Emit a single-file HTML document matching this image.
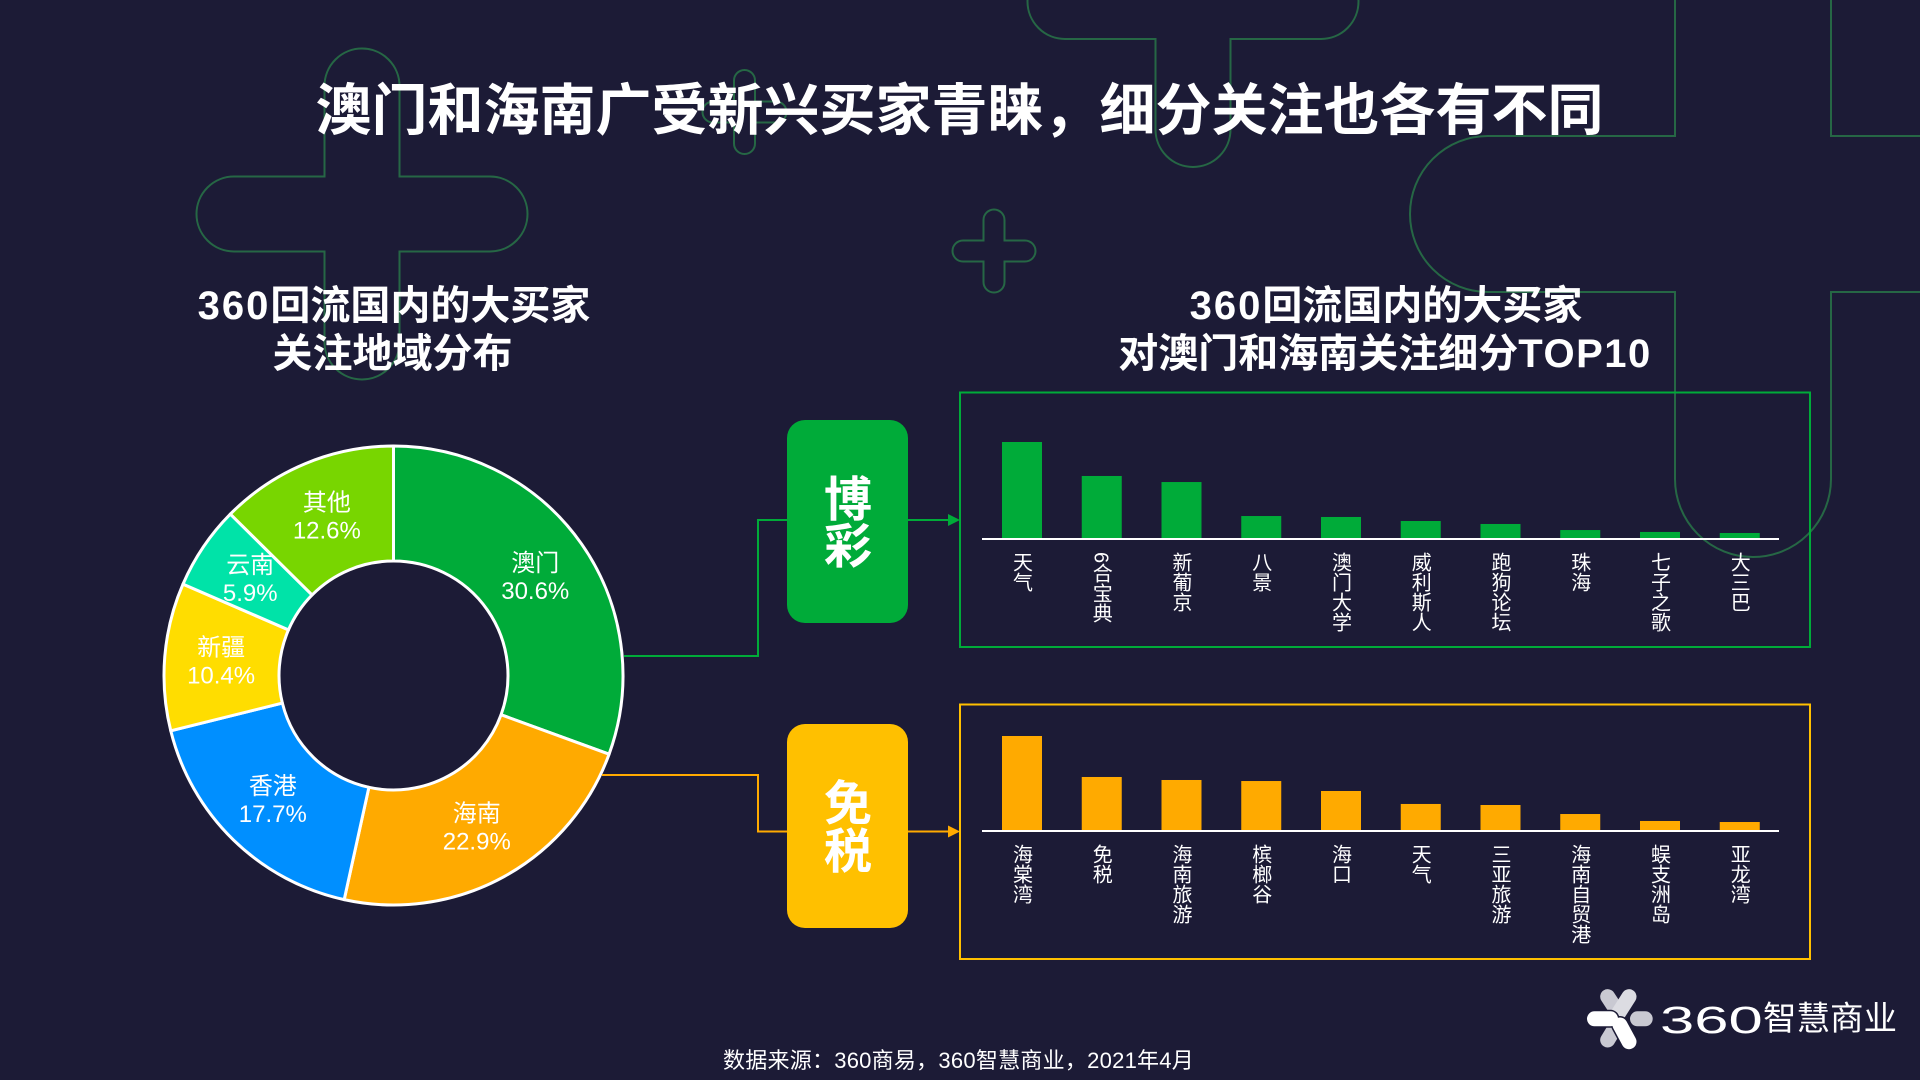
<!DOCTYPE html>
<html lang="zh-CN">
<head>
<meta charset="utf-8">
<title>澳门和海南广受新兴买家青睐</title>
<style>
html,body{margin:0;padding:0;width:1920px;height:1080px;overflow:hidden;background:#1c1b36;}
svg{display:block;position:absolute;left:0;top:0;}
text{font-family:"Liberation Sans","Noto Sans CJK SC",sans-serif;fill:#fff;}
.bold{font-weight:700;}
.vlabel{writing-mode:vertical-rl;font-size:20px;font-family:"Liberation Sans","Noto Sans CJK SC",sans-serif;}
</style>
</head>
<body>
<svg id="stage" width="1920" height="1080" viewBox="0 0 1920 1080">
  <rect width="1920" height="1080" fill="#1c1b36"/>
  <g id="deco" fill="none" stroke="#266745" stroke-width="2"></g>

  <text class="bold" x="959.5" y="130" font-size="56" text-anchor="middle">澳门和海南广受新兴买家青睐，细分关注也各有不同</text>

  <g>
    <text class="bold" x="394" y="319" font-size="40" text-anchor="middle"><tspan letter-spacing="2">360</tspan>回流国内的大买家</text>
    <text class="bold" x="392.5" y="367" font-size="40" text-anchor="middle">关注地域分布</text>
  </g>
  <g>
    <text class="bold" x="1386" y="319" font-size="40" text-anchor="middle"><tspan letter-spacing="2">360</tspan>回流国内的大买家</text>
    <text class="bold" x="1385" y="367" font-size="40" text-anchor="middle">对澳门和海南关注细分<tspan letter-spacing="1.5">TOP10</tspan></text>
  </g>

  <g id="donut"></g>

  <g fill="none" stroke-width="2">
    <path d="M624 656H758V520H787" stroke="#00ab39"/>
    <path d="M908 520H949" stroke="#00ab39"/>
    <path d="M948 514L960 520L948 526Z" fill="#00ab39" stroke="none"/>
    <path d="M602 775H758V831.5H787" stroke="#ffaa00"/>
    <path d="M908 831.5H949" stroke="#ffaa00"/>
    <path d="M948 825.5L960 831.5L948 837.5Z" fill="#ffaa00" stroke="none"/>
  </g>

  <g>
    <rect x="787" y="420" width="121" height="203" rx="18" fill="#00ab39"/>
    <text class="bold" x="848" y="516" font-size="48" text-anchor="middle">博</text>
    <text class="bold" x="848" y="563" font-size="48" text-anchor="middle">彩</text>
  </g>
  <g>
    <rect x="787" y="724" width="121" height="204" rx="18" fill="#ffc000"/>
    <text class="bold" x="848" y="820" font-size="48" text-anchor="middle">免</text>
    <text class="bold" x="848" y="868" font-size="48" text-anchor="middle">税</text>
  </g>

  <rect x="960" y="392.5" width="850" height="254.5" fill="none" stroke="#00ab39" stroke-width="2"/>
  <g id="gamblingChart"></g>
  <rect x="960" y="704.5" width="850" height="254.5" fill="none" stroke="#ffc000" stroke-width="2"/>
  <g id="dutyfreeChart"></g>

  <text x="958.5" y="1068" font-size="22" letter-spacing="0.25" text-anchor="middle">数据来源：360商易，360智慧商业，2021年4月</text>

  <g>
    <g fill="none" stroke-linecap="round" stroke-width="15">
      <path d="M1637.5 1018.8H1645.2" stroke="#c9c9d2"/>
      <path d="M1607.7 996.7L1617.7 1012" stroke="#c9c9d2"/>
      <path d="M1607.7 1040L1615 1028" stroke="#c9c9d2"/>
      <path d="M1629 996.7L1618 1014" stroke="#dcdce2"/>
      <path d="M1594.5 1018.8H1610.5" stroke="#1c1b36" stroke-width="18"/>
      <path d="M1620 1025L1629 1041.7" stroke="#1c1b36" stroke-width="18"/>
      <path d="M1594.5 1018.8H1610.5" stroke="#ffffff"/>
      <path d="M1620 1025L1629 1041.7" stroke="#ffffff"/>
    </g>
    <text transform="translate(1660 1033) scale(1.62 1)" font-size="38">360</text>
    <text x="1763" y="1030" font-size="33.5">智慧商业</text>
  </g>
</svg>
<script>
// Donut data
const regionNames = ['澳门', '海南', '香港', '新疆', '云南', '其他'];
const regionValues = [30.6, 22.9, 17.7, 10.4, 5.9, 12.6];
const regionColors = ['#00ab39', '#ffaa00', '#008fff', '#ffdd00', '#00e3a8', '#78d600'];

// Gambling bar chart data (relative index)
const gamblingCategories = ['天气', '6合宝典', '新葡京', '八景', '澳门大学', '威利斯人', '跑狗论坛', '珠海', '七子之歌', '大三巴'];
const gamblingValues = [100, 64.6, 58.3, 22.9, 21.9, 17.7, 14.6, 8.3, 6.3, 5.2];

// Duty-free bar chart data (relative index)
const dutyfreeCategories = ['海棠湾', '免税', '海南旅游', '槟榔谷', '海口', '天气', '三亚旅游', '海南自贸港', '蜈支洲岛', '亚龙湾'];
const dutyfreeValues = [100, 56.4, 53.2, 52.1, 41.5, 27.7, 26.6, 17, 9.6, 8.5];

const SVG_NS = 'http://www.w3.org/2000/svg';
function mk(tag, attrs, parent) {
  const el = document.createElementNS(SVG_NS, tag);
  for (const k in attrs) el.setAttribute(k, attrs[k]);
  parent.appendChild(el);
  return el;
}

// Background plus outlines
function plusPath(cx, cy, half, arm) {
  const a = arm / 2, h = half;
  return 'M' + (cx - a) + ' ' + (cy - a) + 'V' + (cy - h + a) +
    'A' + a + ' ' + a + ' 0 0 1 ' + (cx + a) + ' ' + (cy - h + a) +
    'V' + (cy - a) + 'H' + (cx + h - a) +
    'A' + a + ' ' + a + ' 0 0 1 ' + (cx + h - a) + ' ' + (cy + a) +
    'H' + (cx + a) + 'V' + (cy + h - a) +
    'A' + a + ' ' + a + ' 0 0 1 ' + (cx - a) + ' ' + (cy + h - a) +
    'V' + (cy + a) + 'H' + (cx - h + a) +
    'A' + a + ' ' + a + ' 0 0 1 ' + (cx - h + a) + ' ' + (cy - a) + 'Z';
}
const deco = document.getElementById('deco');
[[362, 214, 165.5, 75], [744.5, 112, 42, 21], [994, 251, 41.5, 21], [1193, 1.5, 165.5, 75], [1753, 214, 343, 156]].forEach(function (p) {
  const shape = mk('path', { d: plusPath(p[0], p[1], p[2], p[3]) }, deco);
  
  
});

// Donut
(function () {
  const g = document.getElementById('donut');
  const cx = 393.5, cy = 675.5, rOuter = 229.5, rInner = 114.5, rLabel = 173;
  const total = regionValues.reduce(function (a, b) { return a + b; }, 0);
  const angle = function (v) { return v / total * Math.PI * 2; };
  const pt = function (r, a) { return [cx + r * Math.sin(a), cy - r * Math.cos(a)]; };
  let start = 0;
  regionValues.forEach(function (v, i) {
    const end = start + angle(v);
    const large = end - start > Math.PI ? 1 : 0;
    const p1 = pt(rOuter, start), p2 = pt(rOuter, end), p3 = pt(rInner, end), p4 = pt(rInner, start);
    const slice = mk('path', {
      d: 'M' + p1 + 'A' + rOuter + ' ' + rOuter + ' 0 ' + large + ' 1 ' + p2 + 'L' + p3 +
         'A' + rInner + ' ' + rInner + ' 0 ' + large + ' 0 ' + p4 + 'Z',
      fill: regionColors[i], stroke: '#fff', 'stroke-width': 3, 'stroke-linejoin': 'round'
    }, g);
    
    
    start = end;
  });
  start = 0;
  regionValues.forEach(function (v, i) {
    const mid = start + angle(v) / 2;
    const c = pt(rLabel, mid);
    const nameLabel = mk('text', { x: c[0], y: c[1] - 14 + 8.6, 'font-size': 24, 'text-anchor': 'middle' }, g);
    nameLabel.textContent = regionNames[i];
    
    
    const pctLabel = mk('text', { x: c[0], y: c[1] + 14 + 8.6, 'font-size': 24, 'text-anchor': 'middle' }, g);
    pctLabel.textContent = v.toFixed(1) + '%';
    
    
    start += angle(v);
  });
})();

// Bar charts
function drawBars(groupId, categories, values, color, baseline, maxHeight, labelTop) {
  const g = document.getElementById(groupId);
  const left = 982, bandStep = 79.75, barWidth = 40, barOffset = 20;
  const maxValue = Math.max.apply(null, values);
  const xScale = function (i) { return left + barOffset + i * bandStep; };
  const yScale = function (v) { return baseline - v / maxValue * maxHeight; };
  values.forEach(function (v, i) {
    const bar = mk('rect', { x: xScale(i), y: yScale(v), width: barWidth, height: baseline - yScale(v), fill: color }, g);
    
    
  });
  const axis = mk('rect', { x: left, y: baseline, width: 797, height: 2, fill: '#fff' }, g);
  
  
  categories.forEach(function (c, i) {
    const label = mk('text', { x: xScale(i) + barWidth / 2 - 1.5, y: labelTop, class: 'vlabel' }, g);
    label.textContent = c;
    
    
  });
}
drawBars('gamblingChart', gamblingCategories, gamblingValues, '#00ab39', 538, 96, 552);
drawBars('dutyfreeChart', dutyfreeCategories, dutyfreeValues, '#ffaa00', 830, 94, 844);
</script>
</body>
</html>
